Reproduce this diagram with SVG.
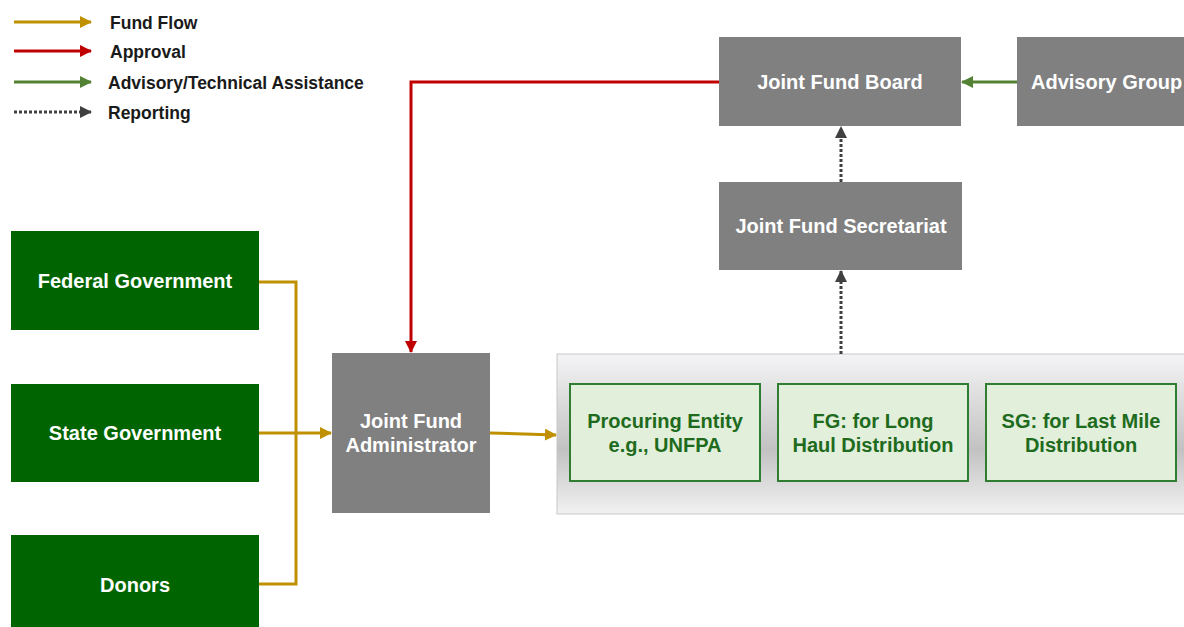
<svg xmlns="http://www.w3.org/2000/svg" width="1184" height="627" viewBox="0 0 1184 627">
<defs>
<linearGradient id="cont" x1="0" y1="0" x2="0" y2="1">
<stop offset="0" stop-color="#f4f4f6"/>
<stop offset="0.6" stop-color="#c2c2c2"/>
<stop offset="1" stop-color="#f2f2f2"/>
</linearGradient>
<marker id="aGold" markerWidth="12" markerHeight="12" refX="11" refY="6" orient="auto" markerUnits="userSpaceOnUse"><path d="M0,0 L12,6 L0,12 z" fill="#BF9000"/></marker>
<marker id="aRed" markerWidth="12" markerHeight="12" refX="11" refY="6" orient="auto" markerUnits="userSpaceOnUse"><path d="M0,0 L12,6 L0,12 z" fill="#C00000"/></marker>
<marker id="aGreen" markerWidth="12" markerHeight="12" refX="11" refY="6" orient="auto" markerUnits="userSpaceOnUse"><path d="M0,0 L12,6 L0,12 z" fill="#548235"/></marker>
<marker id="aDark" markerWidth="12" markerHeight="12" refX="11" refY="6" orient="auto" markerUnits="userSpaceOnUse"><path d="M0,0 L12,6 L0,12 z" fill="#404040"/></marker>
</defs>
<style>
text{font-family:"Liberation Sans",Arial,sans-serif;font-weight:bold;}
.leg{font-size:17.5px;fill:#1a1a1a;}
.gbox{fill:#808080;}
.gt{font-size:20px;fill:#ffffff;text-anchor:middle;}
.dg{fill:#006400;}
.lg{fill:#E2EFDA;stroke:#2E7D32;stroke-width:2;}
.lt{font-size:20px;fill:#1E6B1E;text-anchor:middle;}
.gold{stroke:#BF9000;stroke-width:3;fill:none;}
.red{stroke:#C00000;stroke-width:3;fill:none;}
.grn{stroke:#548235;stroke-width:3;fill:none;}
.dot{stroke:#404040;stroke-width:3;fill:none;stroke-dasharray:3 2;}
</style>
<g id="legend">
<line x1="14" y1="22" x2="91" y2="22" class="gold" marker-end="url(#aGold)"/>
<text x="110" y="29" class="leg">Fund Flow</text>
<line x1="14" y1="51" x2="91" y2="51" class="red" marker-end="url(#aRed)"/>
<text x="110" y="58" class="leg">Approval</text>
<line x1="14" y1="82" x2="91" y2="82" class="grn" marker-end="url(#aGreen)"/>
<text x="108" y="89" class="leg">Advisory/Technical Assistance</text>
<line x1="14" y1="112" x2="91" y2="112" class="dot" marker-end="url(#aDark)"/>
<text x="108" y="119" class="leg">Reporting</text>
</g>
<g id="container">
<rect x="557" y="354" width="630" height="160" fill="url(#cont)" stroke="#c8c8c8" stroke-width="1"/>
</g>
<g id="joint-fund-board">
<rect x="719" y="37" width="242" height="89" class="gbox"/>
<text x="840" y="89" class="gt">Joint Fund Board</text>
</g>
<g id="advisory-group">
<rect x="1017" y="37" width="170" height="89" class="gbox"/>
<text x="1031" y="89" class="gt" style="text-anchor:start">Advisory Group</text>
</g>
<g id="joint-fund-secretariat">
<rect x="719" y="182" width="243" height="88" class="gbox"/>
<text x="841" y="233" class="gt">Joint Fund Secretariat</text>
</g>
<g id="federal-government">
<rect x="11" y="231" width="248" height="99" class="dg"/>
<text x="135" y="288" class="gt">Federal Government</text>
</g>
<g id="state-government">
<rect x="11" y="384" width="248" height="98" class="dg"/>
<text x="135" y="440" class="gt">State Government</text>
</g>
<g id="donors">
<rect x="11" y="535" width="248" height="95" class="dg"/>
<text x="135" y="592" class="gt">Donors</text>
</g>
<g id="joint-fund-administrator">
<rect x="332" y="353" width="158" height="160" class="gbox"/>
<text x="411" y="428" class="gt">Joint Fund</text>
<text x="411" y="452" class="gt">Administrator</text>
</g>
<g id="procuring-entity">
<rect x="570" y="384" width="190" height="97" class="lg"/>
<text x="665" y="428" class="lt">Procuring Entity</text>
<text x="665" y="452" class="lt">e.g., UNFPA</text>
</g>
<g id="fg-long-haul">
<rect x="778" y="384" width="190" height="97" class="lg"/>
<text x="873" y="428" class="lt">FG: for Long</text>
<text x="873" y="452" class="lt">Haul Distribution</text>
</g>
<g id="sg-last-mile">
<rect x="986" y="384" width="190" height="97" class="lg"/>
<text x="1081" y="428" class="lt">SG: for Last Mile</text>
<text x="1081" y="452" class="lt">Distribution</text>
</g>
<g id="connectors">
<polyline points="259,282 296,282 296,584 259,584" class="gold"/>
<line x1="259" y1="433" x2="331" y2="433" class="gold" marker-end="url(#aGold)"/>
<line x1="490" y1="433" x2="556" y2="435" class="gold" marker-end="url(#aGold)"/>
<polyline points="719,82 411,82 411,352" class="red" marker-end="url(#aRed)"/>
<line x1="1017" y1="82" x2="962" y2="82" class="grn" marker-end="url(#aGreen)"/>
<line x1="841" y1="182" x2="841" y2="127" class="dot" marker-end="url(#aDark)"/>
<line x1="841" y1="354" x2="841" y2="271" class="dot" marker-end="url(#aDark)"/>
</g>
</svg>
